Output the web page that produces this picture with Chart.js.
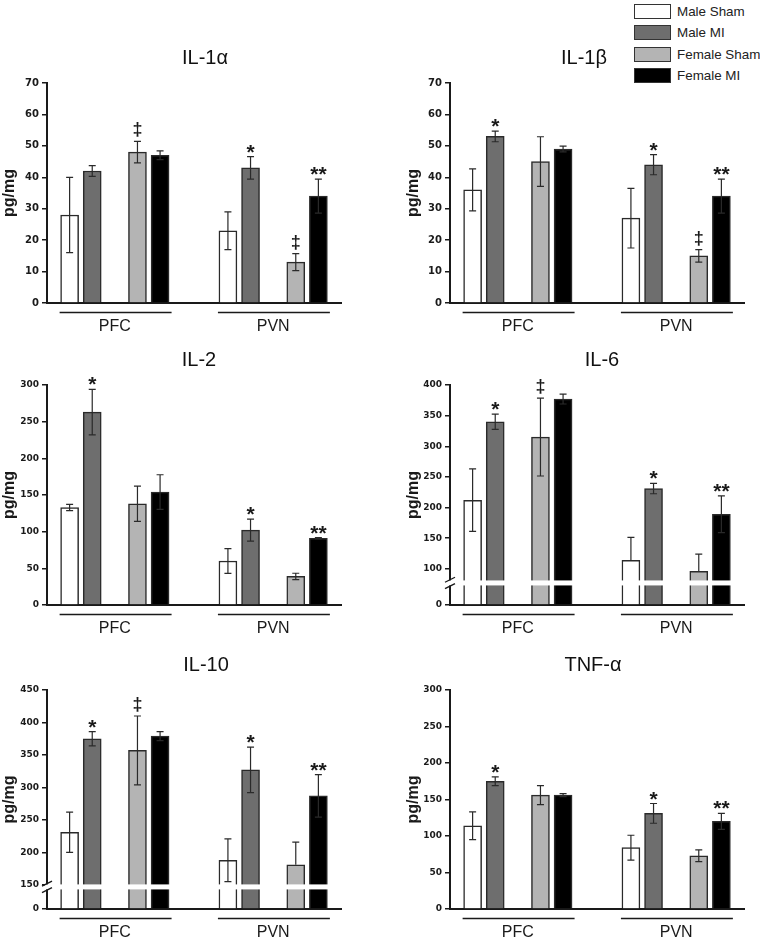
<!DOCTYPE html>
<html>
<head>
<meta charset="utf-8">
<script src="https://cdn.jsdelivr.net/npm/chart.js@4.4.1/dist/chart.umd.min.js"></script>
<style>
  html, body { margin: 0; padding: 0; background: #fff; overflow: hidden; }
  body { width: 760px; height: 939px; position: relative; font-family: 'Liberation Sans', Arial, sans-serif; }
  canvas { position: absolute; }
  #legend { position: absolute; left: 634px; top: 1px; }
  .lg-row { display: flex; align-items: center; height: 21.3px; }
  .lg-box { width: 35px; height: 13px; border: 1px solid #333; }
  .lg-text { margin-left: 6px; font-size: 13.4px; color: #222; white-space: nowrap; }
</style>
</head>
<body>
<div id="legend"></div>
<canvas id="il1a" width="360" height="305" style="left:0;top:30px"></canvas>
<canvas id="il1b" width="356" height="305" style="left:404px;top:30px"></canvas>
<canvas id="il2" width="360" height="297" style="left:0;top:340px"></canvas>
<canvas id="il6" width="356" height="297" style="left:404px;top:340px"></canvas>
<canvas id="il10" width="360" height="296" style="left:0;top:645px"></canvas>
<canvas id="tnfa" width="356" height="296" style="left:404px;top:645px"></canvas>
<script>
const regions = ['PFC', 'PVN'];
const groups = ['Male Sham', 'Male MI', 'Female Sham', 'Female MI'];
const groupColors = ['#ffffff', '#6e6e6e', '#b4b4b4', '#000000'];

// order: PFC (MS, MMI, FS, FMI), PVN (MS, MMI, FS, FMI)
const il1aMean = [28, 42, 48, 47, 23, 43, 13, 34];
const il1aSem  = [12, 1.7, 3.4, 1.4, 6, 3.6, 2.7, 5.4];
const il1aSig  = ['', '', '‡', '', '', '*', '‡', '**'];
const il1aTicks = [0, 10, 20, 30, 40, 50, 60, 70];

const il1bMean = [36, 53, 45, 49, 27, 44, 15, 34];
const il1bSem  = [6.7, 1.7, 7.9, 0.9, 9.5, 3.2, 2, 5.4];
const il1bSig  = ['', '*', '', '', '', '*', '‡', '**'];
const il1bTicks = [0, 10, 20, 30, 40, 50, 60, 70];

const il2Mean = [133, 263, 138, 154, 60, 102, 39, 91];
const il2Sem  = [4.3, 31, 24, 23.6, 17, 15, 4.3, 0.9];
const il2Sig  = ['', '*', '', '', '', '*', '', '**'];
const il2Ticks = [0, 50, 100, 150, 200, 250, 300];

const il6Mean = [212, 340, 315, 377, 114, 231, 96, 189];
const il6Sem  = [51, 12.5, 63.5, 8, 37.5, 8.5, 28, 30];
const il6Sig  = ['', '*', '‡', '', '', '*', '', '**'];
const il6Ticks = [0, 100, 150, 200, 250, 300, 350, 400];

const il10Mean = [231, 375, 357, 379, 188, 327, 181, 287];
const il10Sem  = [31, 11, 53, 7, 33, 35, 35, 32.7];
const il10Sig  = ['', '*', '‡', '', '', '*', '', '**'];
const il10Ticks = [0, 150, 200, 250, 300, 350, 400, 450];

const tnfaMean = [114, 175, 156, 156, 84, 131, 73, 120];
const tnfaSem  = [19, 6, 13, 2, 17, 13.5, 8, 11];
const tnfaSig  = ['', '*', '', '', '', '*', '', '**'];
const tnfaTicks = [0, 50, 100, 150, 200, 250, 300];

// slot layout on the category axis: pad, 4 bars w/ gap, 2 empty, 4 bars w/ gap, pad
const slots = [[1, 2, 4, 5], [8, 9, 11, 12]];
const labelSlots = [3, 10];
const nSlots = 14;

const panels = [
  { id: 'il1a', title: 'IL-1α', mean: il1aMean, sem: il1aSem, sig: il1aSig, ticks: il1aTicks, min: 0, max: 70, titleDx: 158, yw: 47, padR: 19, padT: 53, tickSize: 10 },
  { id: 'il1b', title: 'IL-1β', mean: il1bMean, sem: il1bSem, sig: il1bSig, ticks: il1bTicks, min: 0, max: 70, titleDx: 134, yw: 46, padR: 16, padT: 53, tickSize: 10 },
  { id: 'il2', title: 'IL-2', mean: il2Mean, sem: il2Sem, sig: il2Sig, ticks: il2Ticks, min: 0, max: 300, titleDx: 152, yw: 47, padR: 19, padT: 45, tickSize: 9 },
  { id: 'il6', title: 'IL-6', mean: il6Mean, sem: il6Sem, sig: il6Sig, ticks: il6Ticks, min: 41, max: 400, breakAt: 77, titleDx: 152, yw: 46, padR: 16, padT: 45, tickSize: 9 },
  { id: 'il10', title: 'IL-10', mean: il10Mean, sem: il10Sem, sig: il10Sig, ticks: il10Ticks, min: 113, max: 450, breakAt: 147, titleDx: 159, yw: 47, padR: 19, padT: 45, tickSize: 9 },
  { id: 'tnfa', title: 'TNF-α', mean: tnfaMean, sem: tnfaSem, sig: tnfaSig, ticks: tnfaTicks, min: 0, max: 300, titleDx: 143, yw: 46, padR: 16, padT: 45, tickSize: 9 }
];

const ink = '#1a1a1a';
Chart.defaults.font.family = "'Liberation Sans', Arial, sans-serif";
Chart.defaults.color = ink;

// legend
const legendEl = document.getElementById('legend');
groups.forEach((g, i) => {
  const row = document.createElement('div');
  row.className = 'lg-row';
  row.innerHTML = `<div class="lg-box" style="background:${groupColors[i]}"></div><div class="lg-text">${g}</div>`;
  legendEl.appendChild(row);
});

// error bars, significance marks, axis break, group lines, title
const decor = {
  id: 'decor',
  afterDatasetsDraw(chart, args, opts) {
    const { ctx, chartArea: area } = chart;
    const x = chart.scales.x, y = chart.scales.y;
    ctx.save();

    let breakY = null;
    if (opts.breakAt != null) {
      breakY = y.getPixelForValue(opts.breakAt);
      ctx.fillStyle = '#fff';
      ctx.fillRect(area.left - 2, breakY - 2.5, area.right - area.left + 2, 5);
    }

    chart.data.datasets.forEach((ds, di) => {
      const meta = chart.getDatasetMeta(di);
      ds.data.forEach((v, i) => {
        if (v == null) return;
        const bx = meta.data[i].x;
        const e = ds.errors[i];
        const top = y.getPixelForValue(v + e);
        const low = v - e;
        ctx.strokeStyle = '#2a2a2a';
        ctx.lineWidth = 1.2;
        ctx.beginPath();
        ctx.moveTo(bx, top);
        ctx.lineTo(bx, y.getPixelForValue(v));
        ctx.moveTo(bx - 3.5, top);
        ctx.lineTo(bx + 3.5, top);
        if (opts.breakAt == null || low > opts.breakAt) {
          const lowY = y.getPixelForValue(low);
          ctx.moveTo(bx, y.getPixelForValue(v));
          ctx.lineTo(bx, lowY);
          ctx.moveTo(bx - 3.5, lowY);
          ctx.lineTo(bx + 3.5, lowY);
        }
        ctx.stroke();

        const s = ds.marks[i];
        if (s) {
          const size = s === '‡' ? 18 : 21;
          ctx.font = `bold ${size}px 'Liberation Sans', Arial, sans-serif`;
          ctx.fillStyle = ink;
          ctx.textAlign = 'center';
          ctx.textBaseline = 'alphabetic';
          const m = ctx.measureText(s);
          ctx.fillText(s, bx, top - 4 - m.actualBoundingBoxDescent);
        }
      });
    });

    if (breakY != null) {
      ctx.strokeStyle = ink;
      ctx.lineWidth = 1.3;
      const ax = area.left;
      [-3.2, 3.2].forEach(d => {
        ctx.beginPath();
        ctx.moveTo(ax - 5, breakY + d + 2.5);
        ctx.lineTo(ax + 5, breakY + d - 2.5);
        ctx.stroke();
      });
    }

    // region underlines
    ctx.strokeStyle = ink;
    ctx.lineWidth = 1.5;
    slots.forEach(sl => {
      const lineY = area.bottom + 9.5;
      ctx.beginPath();
      ctx.moveTo(x.getPixelForValue(sl[0]) - 10, lineY);
      ctx.lineTo(x.getPixelForValue(sl[3]) + 11.5, lineY);
      ctx.stroke();
    });

    // panel title
    ctx.font = "20px 'Liberation Sans', Arial, sans-serif";
    ctx.fillStyle = '#111';
    ctx.textAlign = 'center';
    ctx.textBaseline = 'middle';
    ctx.fillText(opts.title, area.left + opts.titleDx, area.top - 25);
    ctx.restore();
  }
};

panels.forEach(p => {
  const labels = new Array(nSlots).fill('');
  regions.forEach((r, ri) => { labels[labelSlots[ri]] = r; });

  const datasets = groups.map((g, gi) => {
    const data = new Array(nSlots).fill(null);
    const errors = new Array(nSlots).fill(null);
    const marks = new Array(nSlots).fill('');
    regions.forEach((r, ri) => {
      const k = ri * 4 + gi;
      const s = slots[ri][gi];
      data[s] = p.mean[k];
      errors[s] = p.sem[k];
      marks[s] = p.sig[k];
    });
    return {
      label: g,
      data, errors, marks,
      backgroundColor: groupColors[gi],
      borderColor: '#2a2a2a',
      borderWidth: 1.5,
      borderSkipped: 'bottom',
      grouped: false,
      barThickness: 18,
      base: p.min
    };
  });

  const tickValues = p.ticks.map((t, i) => (i === 0 ? p.min : t));

  new Chart(document.getElementById(p.id), {
    type: 'bar',
    data: { labels, datasets },
    options: {
      responsive: false,
      animation: false,
      layout: { padding: { top: p.padT, right: p.padR, left: 0, bottom: 0 } },
      plugins: {
        legend: { display: false },
        tooltip: { enabled: false },
        decor: { title: p.title, titleDx: p.titleDx, breakAt: p.breakAt }
      },
      scales: {
        x: {
          type: 'category',
          offset: false,
          grid: { display: false, drawTicks: false },
          border: { display: true, color: ink, width: 2 },
          ticks: { autoSkip: false, maxRotation: 0, minRotation: 0, padding: 14, font: { size: 16 }, color: ink },
          afterFit: s => { s.height = 32; }
        },
        y: {
          min: p.min,
          max: p.max,
          afterBuildTicks: s => { s.ticks = tickValues.map(v => ({ value: v })); },
          grid: { display: true, drawOnChartArea: false, drawTicks: true, tickLength: 5, color: ink, lineWidth: 1.5 },
          border: { display: true, color: ink, width: 2 },
          ticks: {
            padding: 3,
            color: ink,
            font: { family: "'DejaVu Sans', sans-serif", weight: 'bold', size: p.tickSize },
            callback: (v, i) => String(p.ticks[i])
          },
          title: { display: true, text: 'pg/mg', padding: 0, color: ink, font: { size: 16, weight: 'bold' } },
          afterFit: s => { s.width = p.yw; }
        }
      }
    },
    plugins: [decor]
  });
});
</script>
</body>
</html>
